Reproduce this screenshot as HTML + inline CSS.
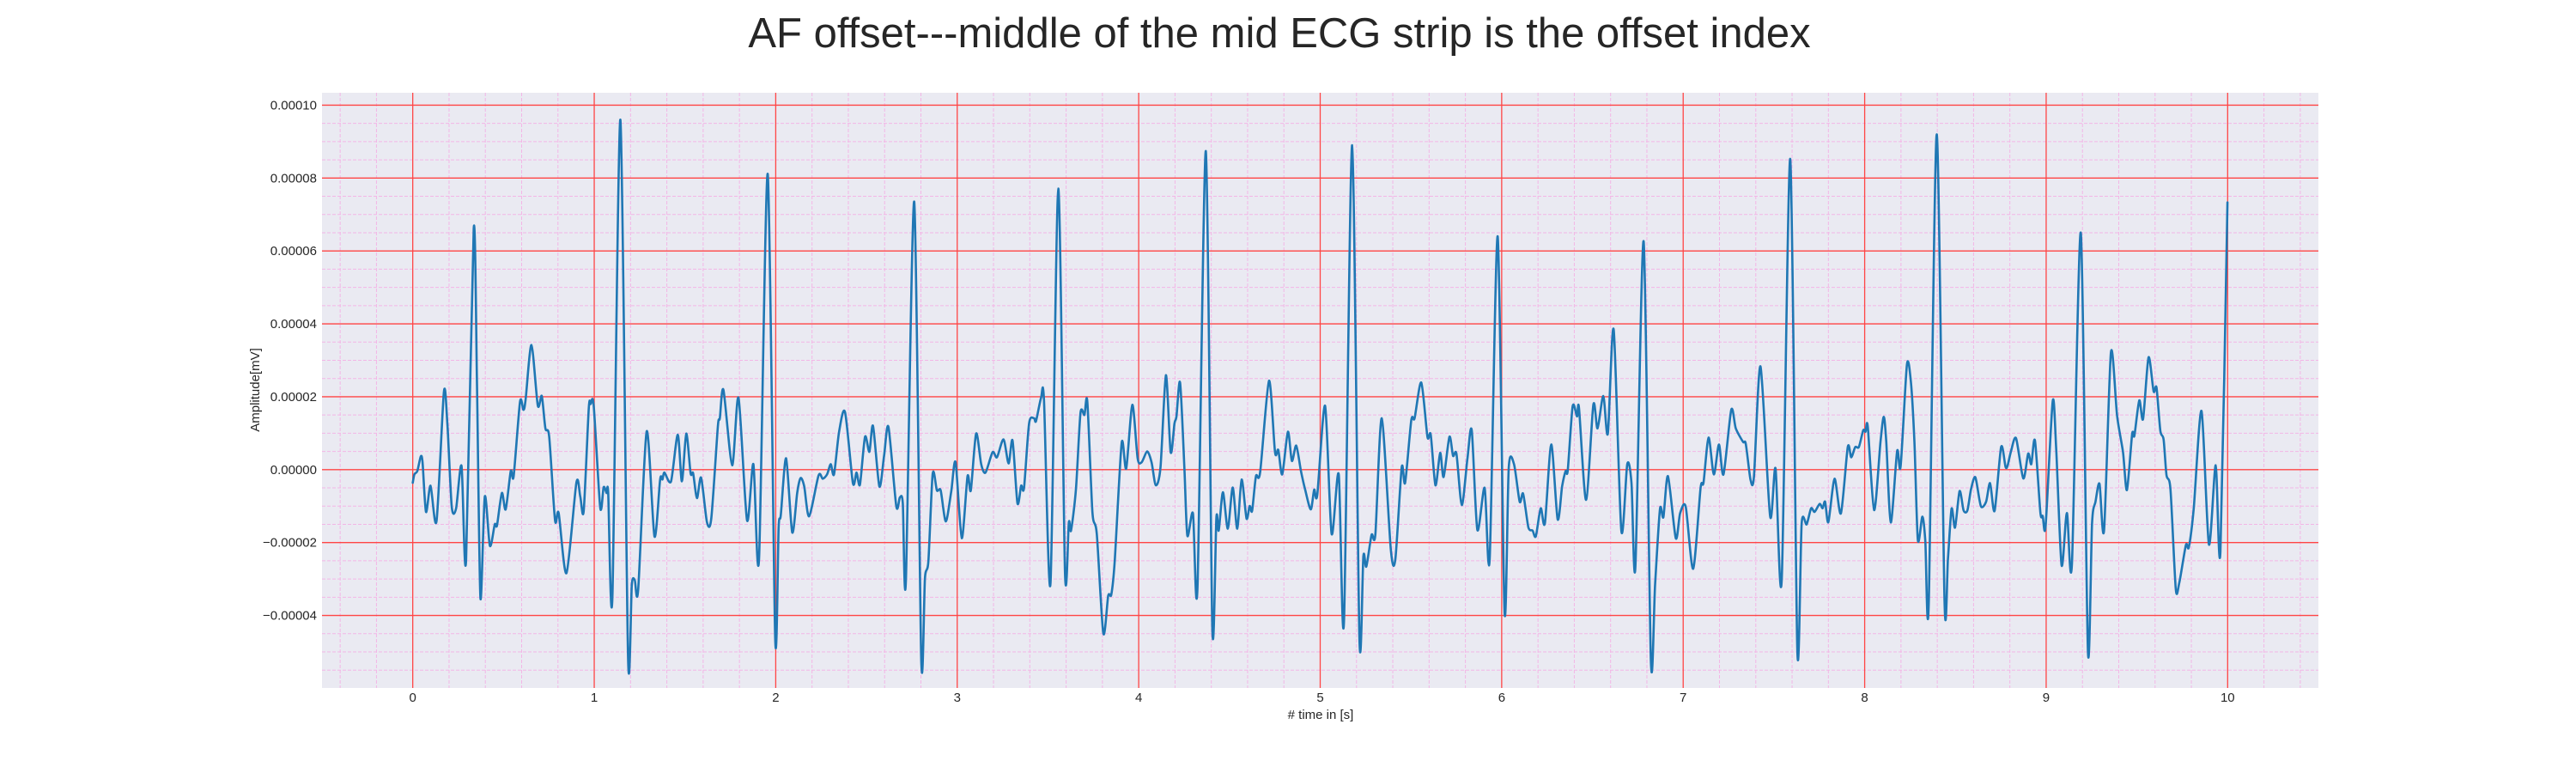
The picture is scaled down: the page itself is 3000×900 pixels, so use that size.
<!DOCTYPE html>
<html><head><meta charset="utf-8"><style>
html,body{margin:0;padding:0;background:#fff;}
svg{display:block;font-family:"Liberation Sans",Arial,sans-serif;}
</style></head><body>
<svg id="chart" width="3000" height="900" viewBox="0 0 3000 900">
<text x="1490" y="55" font-size="49" fill="#262626" text-anchor="middle">AF offset---middle of the mid ECG strip is the offset index</text>
<rect x="375" y="108" width="2325" height="693" fill="#eaeaf2"/>
<g id="grid"></g>
<g id="ticks"></g>
<g id="series"></g>
<text x="1538" y="837" font-size="15" fill="#262626" text-anchor="middle"># time in [s]</text>
<text x="0" y="0" font-size="15" fill="#262626" text-anchor="middle" transform="translate(302,454) rotate(-90)">Amplitude[mV]</text>
</svg>
<script>
// time (s)
const times = [0.0,0.009,0.025,0.044,0.054,0.073,0.098,0.131,0.172,0.191,0.215,0.239,0.269,0.294,0.336,0.354,0.373,0.397,0.425,0.452,0.464,0.491,0.512,0.540,0.556,0.591,0.610,0.622,0.654,0.689,0.711,0.731,0.752,0.784,0.804,0.847,0.902,0.923,0.942,0.970,0.981,0.997,1.033,1.052,1.068,1.077,1.100,1.144,1.186,1.207,1.223,1.242,1.289,1.332,1.363,1.376,1.387,1.423,1.460,1.483,1.507,1.531,1.545,1.566,1.589,1.621,1.645,1.681,1.692,1.712,1.760,1.795,1.842,1.877,1.908,1.956,1.997,
2.016,2.028,2.057,2.091,2.118,2.137,2.157,2.184,2.236,2.259,2.283,2.303,2.321,2.349,2.382,2.425,2.445,2.464,2.492,2.516,2.536,2.571,2.597,2.621,2.664,2.684,2.700,2.717,2.763,2.802,2.822,2.841,2.865,2.888,2.909,2.937,2.967,2.991,3.025,3.057,3.075,3.104,3.132,3.156,3.195,3.219,3.255,3.283,3.305,3.332,3.352,3.368,3.396,3.423,3.434,3.462,3.478,3.514,3.557,3.594,3.615,3.627,3.654,3.679,3.701,3.717,3.745,3.769,3.805,3.832,3.849,3.868,3.906,3.931,3.965,3.994,
4.016,4.047,4.071,4.094,4.120,4.150,4.176,4.197,4.208,4.228,4.252,4.268,4.299,4.324,4.370,4.406,4.428,4.441,4.464,4.491,4.518,4.543,4.567,4.594,4.611,4.625,4.646,4.669,4.718,4.751,4.769,4.791,4.822,4.844,4.868,4.894,4.917,4.948,4.967,4.984,5.027,5.063,5.102,5.131,5.176,5.216,5.238,5.254,5.283,5.304,5.339,5.389,5.414,5.449,5.468,5.502,5.520,5.557,5.591,5.609,5.635,5.661,5.680,5.712,5.732,5.751,5.780,5.811,5.835,5.866,5.906,5.934,5.978,6.016,6.039,
6.068,6.099,6.118,6.147,6.170,6.188,6.215,6.238,6.273,6.308,6.333,6.352,6.364,6.391,6.415,6.426,6.465,6.505,6.528,6.560,6.585,6.617,6.659,6.692,6.715,6.737,6.782,6.822,6.845,6.872,6.891,6.916,6.959,6.983,7.014,7.055,7.096,7.112,7.140,7.169,7.197,7.222,7.265,7.290,7.330,7.345,7.371,7.390,7.426,7.479,7.509,7.543,7.590,7.629,7.653,7.680,7.705,7.724,7.752,7.768,7.782,7.800,7.834,7.869,7.907,7.926,7.948,7.968,7.992,8.005,8.017,8.052,8.087,
8.105,8.119,8.144,8.179,8.198,8.233,8.255,8.274,8.293,8.318,8.334,8.353,8.397,8.440,8.459,8.479,8.498,8.523,8.545,8.566,8.586,8.610,8.640,8.669,8.691,8.716,8.752,8.776,8.787,8.807,8.834,8.874,8.901,8.918,8.938,8.968,8.981,8.997,9.036,9.055,9.085,9.114,9.142,9.191,9.230,9.253,9.272,9.294,9.319,9.357,9.391,9.423,9.445,9.474,9.486,9.513,9.534,9.564,9.592,9.608,9.629,9.647,9.663,9.685,9.714,9.734,9.770,9.786,9.813,9.856,9.897,9.934,9.960,9.999];
// amplitude in micro-units (x1e-6 mV)
const amplitudes = [-3.6,-1.3,-0.4,3.6,2.0,-11.6,-4.4,-14.1,21.4,12.2,-10.2,-10.6,1.0,-24.9,66.2,23.4,-35.2,-7.4,-20.9,-15.0,-15.3,-6.4,-10.9,-0.4,-1.8,18.6,16.4,19.2,34.2,17.6,20.2,11.3,9.0,-13.9,-11.9,-28.4,-3.5,-7.4,-11.3,16.9,18.0,17.6,-10.4,-4.8,-6.4,-6.3,-34.9,96.0,-51.2,-31.6,-30.2,-33.0,10.5,-18.3,-2.7,-2.7,-0.8,-3.2,9.6,-3.2,9.9,-1.0,-1.0,-7.8,-2.2,-14.4,-13.3,11.8,14.1,21.9,1.2,19.7,-13.9,1.5,-24.4,81.1,-46.4,
-15.8,-12.5,3.1,-17.2,-6.4,-2.3,-4.6,-12.8,-1.6,-2.5,-1.3,1.5,-1.3,10.4,15.8,-3.6,-0.8,-4.1,9.0,4.9,12.0,-4.6,3.8,11.7,-10.0,-7.6,-9.2,-30.5,73.5,-52.4,-29.8,-25.1,-1.1,-5.7,-5.7,-14.2,-6.0,2.0,-18.8,-1.8,-5.7,9.9,1.5,-0.8,4.8,3.4,8.3,1.7,8.0,-9.2,-4.4,-5.0,12.7,14.1,13.3,19.7,19.2,-31.2,77.1,-28.4,-14.4,-16.7,-5.5,15.5,15.0,18.6,-11.6,-17.6,-44.9,-34.6,-34.3,-25.1,7.3,0.3,17.8,3.1,
2.0,5.0,2.0,-4.3,0.6,25.9,4.8,12.7,14.6,23.9,0.1,-18.1,-12.0,-32.2,87.4,-43.8,-13.2,-16.7,-6.2,-16.2,-4.9,-16.2,-2.7,-13.4,-10.0,-11.3,-1.8,-0.8,24.4,4.8,5.4,-1.3,10.4,2.4,6.6,-0.4,-5.5,-10.9,-5.5,-6.9,17.5,-17.6,-1.3,-41.7,89.0,-46.4,-23.7,-26.6,-17.9,-17.6,14.1,-21.8,-24.6,0.6,-3.6,13.6,14.1,23.9,9.0,9.6,-4.3,4.6,-2.0,9.0,3.8,4.3,-9.7,2.9,10.8,-16.5,-5.0,-24.4,64.0,-39.1,0.6,
1.5,-8.8,-6.6,-15.8,-16.7,-18.3,-10.6,-14.7,6.9,-13.6,-4.6,-0.4,-0.2,17.4,14.6,16.9,-8.3,17.8,11.3,20.2,9.9,38.4,-16.7,1.5,-3.6,-26.5,62.6,-52.4,-31.6,-10.8,-13.0,-1.8,-18.8,-12.0,-10.2,-27.2,-5.0,-3.6,8.8,-1.3,6.9,-1.3,16.4,11.3,7.6,7.1,-2.7,-1.8,28.3,-12.8,0.3,-30.2,85.2,-49.8,-14.8,-15.0,-10.6,-11.6,-9.4,-10.6,-8.8,-14.4,-2.5,-12.0,6.2,3.4,6.2,6.2,10.8,10.4,11.8,-11.1,7.6,
14.5,7.8,-14.5,5.1,0.8,28.8,23.9,7.8,-19.3,-12.9,-19.5,-36.8,92.0,-36.1,-24.4,-10.7,-15.9,-5.9,-11.2,-11.2,-5.4,-2.1,-10.0,-8.8,-3.7,-11.3,6.2,0.8,1.0,5.2,8.6,-2.4,4.4,1.5,8.0,-11.7,-12.7,-15.4,18.8,5.9,-26.2,-11.9,-25.7,65.0,-49.8,-14.7,-8.8,-3.9,-16.6,32.2,14.7,4.9,-5.6,9.8,9.3,19.0,13.9,30.8,21.5,22.5,10.7,8.3,-1.5,-5.4,-32.7,-30.9,-20.7,-21.3,-10.7,16.1,-20.5,1.2,-22.5,73.3];
const xTickLabels = ["0","1","2","3","4","5","6","7","8","9","10"];
const yTickLabels = ["−0.00004","−0.00002","0.00000","0.00002","0.00004","0.00006","0.00008","0.00010"];
const yTickValues = [-40,-20,0,20,40,60,80,100];

const NS="http://www.w3.org/2000/svg";
const L=375,R=2700,T=108,B=801;
const xMin=-0.5,xMax=10.5,yMin=-59.9,yMax=103.4;
function sx(t){return L+(t-xMin)/(xMax-xMin)*(R-L);}
function sy(v){return B-(v-yMin)/(yMax-yMin)*(B-T);}
function mk(tag,attrs,parent){const e=document.createElementNS(NS,tag);for(const k in attrs)e.setAttribute(k,attrs[k]);parent.appendChild(e);return e;}
const grid=document.getElementById('grid'),ticks=document.getElementById('ticks'),series=document.getElementById('series');
for(let t=-0.4;t<=10.41;t+=0.2){
  if(Math.abs(t-Math.round(t))<1e-6)continue;
  const ln=mk('line',{x1:sx(t),x2:sx(t),y1:T,y2:B,stroke:'#f3b6e6','stroke-width':1,'stroke-dasharray':'4,2'},grid);
  
  
}
for(let v=-55;v<=103;v+=5){
  if(v%20===0)continue;
  const ln=mk('line',{x1:L,x2:R,y1:sy(v),y2:sy(v),stroke:'#f3b6e6','stroke-width':1,'stroke-dasharray':'4,2'},grid);
  
  
}
xTickLabels.forEach((lab,i)=>{
  const t=+lab;
  const ln=mk('line',{x1:sx(t),x2:sx(t),y1:T,y2:B,stroke:'#ff4545','stroke-width':1.3},grid);
  
  
  const tx=mk('text',{x:sx(t),y:817,'font-size':15,fill:'#262626','text-anchor':'middle'},ticks);
  tx.textContent=lab;
  
  
});
yTickValues.forEach((v,i)=>{
  const ln=mk('line',{x1:L,x2:R,y1:sy(v),y2:sy(v),stroke:'#ff4545','stroke-width':1.3},grid);
  
  
  const tx=mk('text',{x:369,y:sy(v)+5,'font-size':15,fill:'#262626','text-anchor':'end'},ticks);
  tx.textContent=yTickLabels[i];
  
  
});
// smooth series (Catmull-Rom)
const pts=times.map((t,i)=>[sx(t),sy(amplitudes[i])]);
let d='M'+pts[0][0].toFixed(1)+','+pts[0][1].toFixed(1);
const k=0.8/6;
for(let i=0;i<pts.length-1;i++){
  const p0=pts[Math.max(0,i-1)],p1=pts[i],p2=pts[i+1],p3=pts[Math.min(pts.length-1,i+2)];
  const c1=[p1[0]+(p2[0]-p0[0])*k,p1[1]+(p2[1]-p0[1])*k];
  const c2=[p2[0]-(p3[0]-p1[0])*k,p2[1]-(p3[1]-p1[1])*k];
  d+='C'+c1[0].toFixed(1)+','+c1[1].toFixed(1)+' '+c2[0].toFixed(1)+','+c2[1].toFixed(1)+' '+p2[0].toFixed(1)+','+p2[1].toFixed(1);
}
const p=mk('path',{d:d,fill:'none',stroke:'#1f77b4','stroke-width':2.6,'stroke-linejoin':'round','stroke-linecap':'round'},series);


</script>
</body></html>
